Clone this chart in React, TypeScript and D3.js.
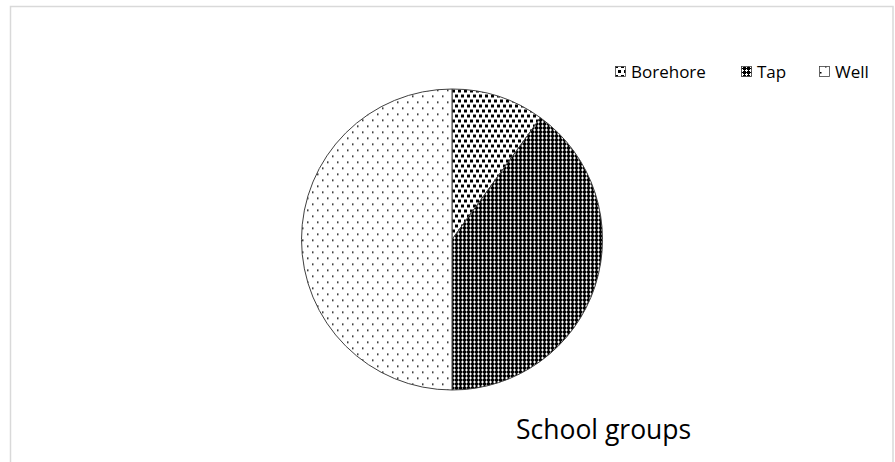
import React from "react";
import * as d3 from "d3";

const categories = ["Borehore", "Tap", "Well"];
const values = [10, 40, 50];
const title = "School groups";

const W = 895;
const H = 462;

export default function App() {
  const cx = 452;
  const cy = 239.5;
  const r = 150.5;
  const pie = d3.pie<number>().sort(null).startAngle(0).endAngle(2 * Math.PI);
  const arcs = pie(values);
  const arcGen = d3.arc<d3.PieArcDatum<number>>().innerRadius(0).outerRadius(r);
  const fills = ["url(#patBore)", "url(#patTap)", "url(#patWell)"];
  const legendX = [615, 741, 819];
  const font = "'Open Sans', 'Noto Sans', sans-serif";
  return (
    <svg
      width={W}
      height={H}
      style={{ position: "absolute", left: 0, top: 0, background: "#fff" }}
    >
      <defs>
        <pattern id="patBore" width="6" height="10" patternUnits="userSpaceOnUse">
          <rect width="6" height="10" fill="#fff" />
          <rect x="0" y="0" width="3" height="3" fill="#000" />
          <rect x="3" y="5" width="3" height="3" fill="#000" />
        </pattern>
        <pattern id="patTap" width="4" height="4" patternUnits="userSpaceOnUse">
          <rect width="4" height="4" fill="#000" />
          <rect x="2" y="1" width="1" height="3" fill="#fff" />
          <rect x="1" y="2" width="3" height="1" fill="#fff" />
        </pattern>
        <pattern id="patWell" width="10" height="12" patternUnits="userSpaceOnUse">
          <rect width="10" height="12" fill="#fff" />
          <rect x="0" y="0" width="1.5" height="1.5" fill="#000" />
          <rect x="5" y="6" width="1.5" height="1.5" fill="#000" />
        </pattern>
      </defs>
      <rect x={10.5} y={6.5} width={882.5} height={H} fill="#fff" stroke="#d9d9d9" strokeWidth={1.5} />
      <g transform={`translate(${cx},${cy})`}>
        {arcs.map((a, i) => (
          <path key={categories[i]} d={arcGen(a) || ""} fill={fills[i]} stroke="#404040" strokeWidth={1} />
        ))}
      </g>
      {categories.map((c, i) => (
        <g key={c}>
          <rect x={legendX[i] + 0.5} y={66.5} width={10} height={10} fill={fills[i]} stroke="#404040" strokeWidth={0.8} />
          <text x={legendX[i] + 16} y={77.5} fontFamily={font} fontSize={17} fill="#000">
            {c}
          </text>
        </g>
      ))}
      <text x={516} y={439} fontFamily={font} fontSize={26.5} fill="#000">
        {title}
      </text>
    </svg>
  );
}
